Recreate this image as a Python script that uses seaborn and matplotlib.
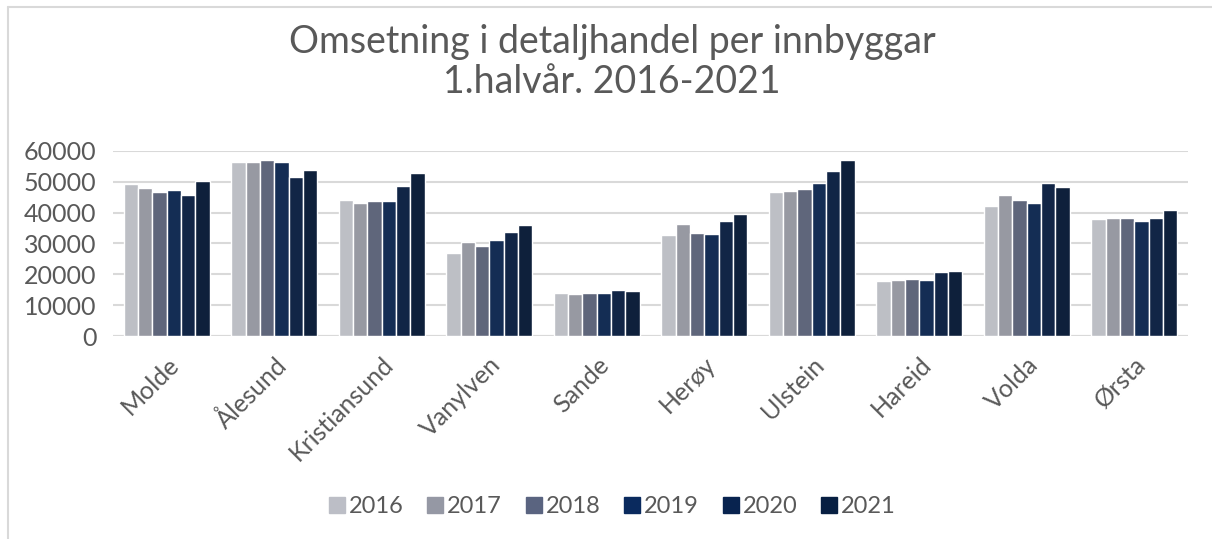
"""
Omsetning i detaljhandel per innbyggar, 1. halvår 2016-2021.
"""

import matplotlib.pyplot as plt
import pandas as pd
import seaborn as sns
from matplotlib.lines import Line2D

# Data
kommunar = ['Molde', 'Ålesund', 'Kristiansund', 'Vanylven', 'Sande',
            'Herøy', 'Ulstein', 'Hareid', 'Volda', 'Ørsta']
years = ['2016', '2017', '2018', '2019', '2020', '2021']

v2016 = [49300, 56500, 44000, 27000, 13800, 32600, 46800, 17800, 42100, 38100]
v2017 = [48100, 56500, 43200, 30600, 13700, 36200, 47000, 18300, 45700, 38300]
v2018 = [46700, 57000, 43900, 29300, 13800, 33500, 47600, 18400, 44100, 38400]
v2019 = [47200, 56300, 43900, 31000, 13800, 33100, 49500, 18100, 43200, 37200]
v2020 = [45600, 51700, 48500, 33800, 14800, 37400, 53500, 20600, 49500, 38300]
v2021 = [50300, 53900, 52800, 35900, 14700, 39600, 57000, 21000, 48200, 40800]

colors = ['#bcbec6', '#9598a4', '#5a6480', '#0a2a5e', '#08234f', '#071f42']
text_color = '#595959'

series = [v2016, v2017, v2018, v2019, v2020, v2021]
df = pd.DataFrame({
    'kommune': [k for _ in years for k in kommunar],
    'year': [y for y in years for _ in kommunar],
    'value': [v for s in series for v in s],
})

sns.set_theme(style='white')
plt.rcParams['font.family'] = ['Lato', 'DejaVu Sans']
plt.rcParams['text.color'] = text_color

fig = plt.figure(figsize=(12.12, 5.39), dpi=100)
ax = fig.add_axes([0.0932, 0.3766, 0.8870, 0.3433])

sns.barplot(data=df, x='kommune', y='value', hue='year', palette=colors,
            width=0.8, edgecolor='white', linewidth=1, ax=ax, legend=False)

ax.set_ylim(0, 60000)
ax.set_xlim(-0.5, len(kommunar) - 0.5)
ax.set_yticks(range(0, 60001, 10000))
ax.yaxis.grid(True, color='#d9d9d9', linewidth=1.5)
ax.set_axisbelow(True)
for side in ['top', 'right', 'left', 'bottom']:
    ax.spines[side].set_visible(False)
ax.axhline(0, color='#d9d9d9', linewidth=1.5, zorder=0)
ax.set_xlabel('')
ax.set_ylabel('')
ax.tick_params(axis='both', length=0, labelcolor=text_color, labelsize=18)
ax.tick_params(axis='y', pad=12)
ax.tick_params(axis='x', pad=12)
plt.setp(ax.get_xticklabels(), rotation=45, ha='right', rotation_mode='anchor')

fig.text(0.505, 0.922, 'Omsetning i detaljhandel per innbyggar',
         ha='center', va='center', fontsize=27, color=text_color)
fig.text(0.505, 0.847, '1.halvår. 2016-2021',
         ha='center', va='center', fontsize=27, color=text_color)

handles = [Line2D([0], [0], marker='s', linestyle='', markersize=11,
                  markerfacecolor=c, markeredgecolor=c) for c in colors]
fig.legend(handles, years, loc='center', bbox_to_anchor=(0.505, 0.06), ncol=6,
           frameon=False, fontsize=17, handlelength=0.7, handletextpad=0.15,
           columnspacing=1.0)

# Light border on the left and top like the source frame
fig.add_artist(Line2D([0.0062, 0.0062], [0, 0.987], transform=fig.transFigure,
                      color='#d9d9d9', linewidth=1.5))
fig.add_artist(Line2D([0.0062, 1], [0.987, 0.987], transform=fig.transFigure,
                      color='#d9d9d9', linewidth=1.5))

plt.savefig('out.png', dpi=100)
plt.close()
